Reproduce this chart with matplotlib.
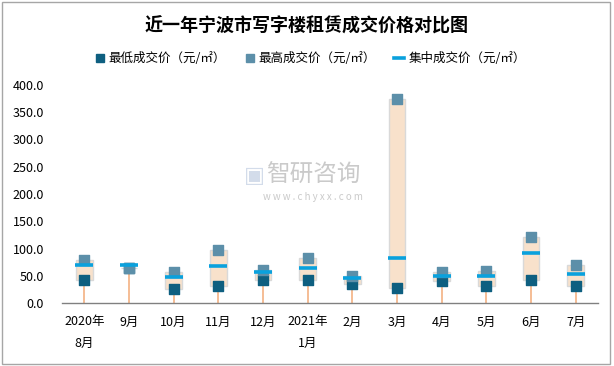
import matplotlib.pyplot as plt
from matplotlib.lines import Line2D
from matplotlib.patches import Rectangle

plt.rcParams['font.family'] = ['Noto Sans CJK SC', 'DejaVu Sans']

months = ['2020年\n8月', '9月', '10月', '11月', '12月', '2021年\n1月',
          '2月', '3月', '4月', '5月', '6月', '7月']
low_price = [42, 64, 25, 32, 43, 42, 35, 27, 41, 31, 42, 31]
high_price = [78, 65, 56, 98, 60, 82, 49, 375, 56, 59, 121, 69]
mid_price = [69, 69, 47, 67, 56, 64, 45, 82, 49, 49, 91, 53]

fig = plt.figure(figsize=(6.14, 3.66), dpi=100)
ax = fig.add_axes([62 / 614, 63 / 366, 536 / 614, 218 / 366])

x = list(range(len(months)))
box_w = 0.38
for i in x:
    lo, hi = low_price[i], high_price[i]
    # stem from zero up to the low price
    ax.plot([i, i], [0, lo], color='#F4B183', lw=1.2, zorder=1)
    # range box
    ax.add_patch(Rectangle((i - box_w / 2, lo), box_w, hi - lo,
                           facecolor='#F8E1CB', edgecolor='#D9D9D9', lw=1, zorder=2))
    # median line
    ax.plot([i - 0.2, i + 0.2], [mid_price[i], mid_price[i]], color='#0AA1DD',
            lw=2.6, solid_capstyle='butt', zorder=4)

ax.scatter(x, low_price, marker='s', s=50, color='#0E5F80', zorder=3)
ax.scatter(x, high_price, marker='s', s=50, color='#5C8FA9', zorder=3)

ax.set_xlim(-0.5, len(months) - 0.5)
ax.set_ylim(0, 400)
ax.set_yticks(range(0, 401, 50))
ax.set_yticklabels([f'{v:.1f}' for v in range(0, 401, 50)], fontsize=9)
ax.set_xticks(x)
ax.set_xticklabels(months, fontsize=9, linespacing=1.8)
ax.tick_params(axis='x', length=0, pad=9)
ax.tick_params(axis='y', length=0, pad=13)
for side in ['top', 'right', 'left']:
    ax.spines[side].set_visible(False)
ax.spines['bottom'].set_color('#808080')
ax.spines['bottom'].set_linewidth(1)

# watermark
fig.text(0.51, 0.52, '智研咨询', fontsize=17, color='#BDBDBD', ha='center', va='center', alpha=0.8)
fig.text(0.51, 0.462, 'w w w . c h y x x . c o m', fontsize=7, color='#BDBDBD', ha='center', va='center', alpha=0.8)
fig.text(0.415, 0.52, '▣', fontsize=16, color='#D3DCEA', ha='center', va='center', family='DejaVu Sans')

fig.suptitle('近一年宁波市写字楼租赁成交价格对比图', y=0.955, fontsize=13, fontweight='bold')

handles = [
    Line2D([], [], marker='s', ls='none', color='#0E5F80', markersize=6),
    Line2D([], [], marker='s', ls='none', color='#5C8FA9', markersize=6),
    Line2D([], [], color='#0AA1DD', lw=2.6),
]
labels = ['最低成交价（元/㎡）', '最高成交价（元/㎡）', '集中成交价（元/㎡）']
fig.legend(handles, labels, loc='center', bbox_to_anchor=(0.505, 0.84), ncol=3,
           frameon=False, fontsize=9, handlelength=0.8, handletextpad=0.3, columnspacing=1.5)

fig.patches.append(Rectangle((0.004, 0.006), 0.99, 0.988, transform=fig.transFigure,
                             fill=False, edgecolor='#A6A6A6', lw=1))

fig.savefig('out.png', dpi=100)
